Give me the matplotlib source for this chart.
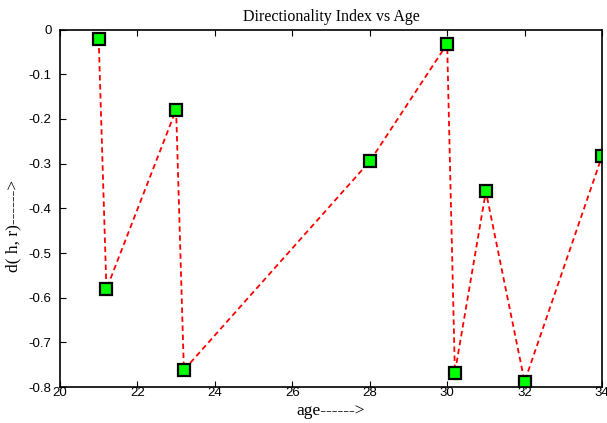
import matplotlib
matplotlib.use("Agg")
import matplotlib.pyplot as plt

age = [21.0, 21.2, 23.0, 23.2, 28.0, 30.0, 30.2, 31.0, 32.0, 34.0]
d_hr = [-0.021, -0.581, -0.179, -0.762, -0.295, -0.032, -0.768, -0.362, -0.788, -0.283]
xticks = [20, 22, 24, 26, 28, 30, 32, 34]
yticks = [0, -0.1, -0.2, -0.3, -0.4, -0.5, -0.6, -0.7, -0.8]
ytick_labels = ["0", "-0.1", "-0.2", "-0.3", "-0.4", "-0.5", "-0.6", "-0.7", "-0.8"]

fig = plt.figure(figsize=(6.07, 4.23), dpi=100)
ax = fig.add_axes([0.0988, 0.085, 0.893, 0.845])
ax.plot(age, d_hr, color="red", linestyle="--", linewidth=1.3, dashes=(3, 2),
        marker="s", markersize=8, markerfacecolor="#00ff00",
        markeredgecolor="black", markeredgewidth=1.6, clip_on=True)
ax.set_xlim(20, 34)
ax.set_ylim(-0.8, 0)
ax.set_xticks(xticks)
ax.set_xticklabels([str(t) for t in xticks], fontfamily="Liberation Sans", fontsize=9.5)
ax.set_yticks(yticks)
ax.set_yticklabels(ytick_labels, fontfamily="Liberation Sans", fontsize=9.5)
ax.tick_params(direction="in", top=True, right=False, length=4, width=0.8)
ax.tick_params(axis="x", pad=0)
ax.tick_params(axis="y", pad=6)
for s in ax.spines.values():
    s.set_linewidth(1.2)
ax.set_title("Directionality Index vs Age", fontfamily="Liberation Serif", fontsize=11.5, pad=6)
ax.set_xlabel("age------>", fontfamily="Liberation Serif", fontsize=12.5, labelpad=3)
ax.set_ylabel("d( h, r)------>", fontfamily="Liberation Serif", fontsize=12.5)
ax.yaxis.set_label_coords(-0.072, 0.45)
fig.savefig("out.png", dpi=100)
